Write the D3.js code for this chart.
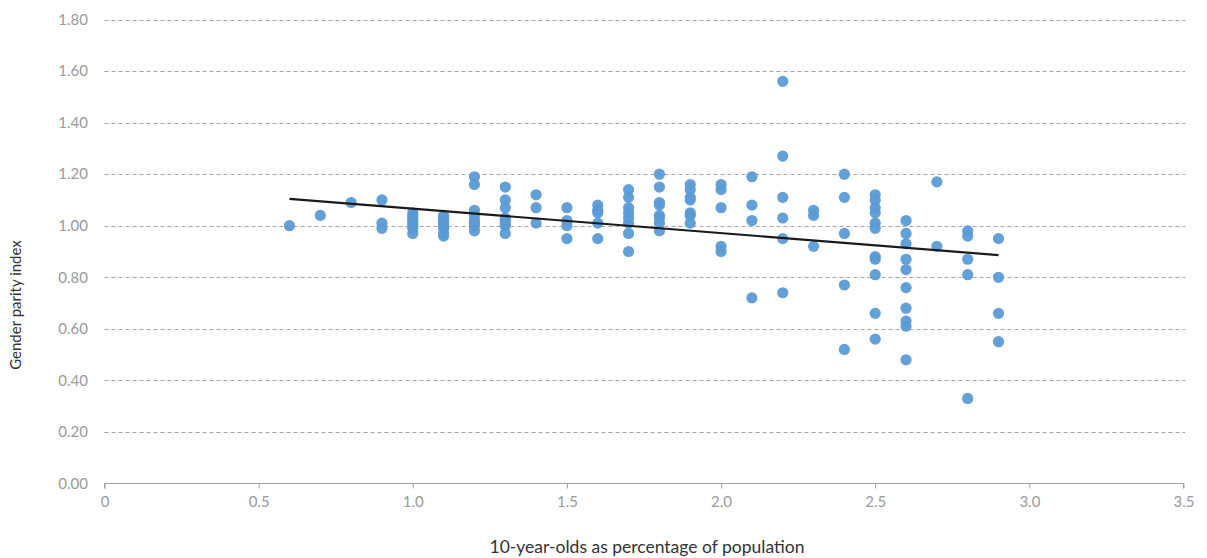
<!DOCTYPE html>
<html><head><meta charset="utf-8">
<script src="https://cdn.jsdelivr.net/npm/d3@7"></script>
<style>body{margin:0;background:#fff;}svg{display:block;font-family:Lato,"Open Sans",sans-serif;}</style>
</head><body><svg id="c" width="1207" height="558"></svg>
<script>
const xTicks = [0, 0.5, 1.0, 1.5, 2.0, 2.5, 3.0, 3.5];
const xTickLabels = ["0", "0.5", "1.0", "1.5", "2.0", "2.5", "3.0", "3.5"];
const yTicks = [0, 0.2, 0.4, 0.6, 0.8, 1.0, 1.2, 1.4, 1.6, 1.8];
const yTickLabels = ["0.00", "0.20", "0.40", "0.60", "0.80", "1.00", "1.20", "1.40", "1.60", "1.80"];
const xTitle = "10-year-olds as percentage of population";
const yTitle = "Gender parity index";

const pointX = [
 0.6, 0.7, 0.8, 0.9, 0.9, 0.9,
 1.0, 1.0, 1.0, 1.0, 1.0, 1.0, 1.0, 1.0,
 1.1, 1.1, 1.1, 1.1, 1.1, 1.1, 1.1, 1.1,
 1.2, 1.2, 1.2, 1.2, 1.2, 1.2, 1.2, 1.2,
 1.3, 1.3, 1.3, 1.3, 1.3, 1.3, 1.3, 1.3,
 1.4, 1.4, 1.4,
 1.5, 1.5, 1.5, 1.5,
 1.6, 1.6, 1.6, 1.6, 1.6,
 1.7, 1.7, 1.7, 1.7, 1.7, 1.7, 1.7, 1.7,
 1.8, 1.8, 1.8, 1.8, 1.8, 1.8, 1.8, 1.8,
 1.9, 1.9, 1.9, 1.9, 1.9, 1.9, 1.9,
 2.0, 2.0, 2.0, 2.0, 2.0,
 2.1, 2.1, 2.1, 2.1,
 2.2, 2.2, 2.2, 2.2, 2.2, 2.2,
 2.3, 2.3, 2.3,
 2.4, 2.4, 2.4, 2.4, 2.4,
 2.5, 2.5, 2.5, 2.5, 2.5, 2.5, 2.5, 2.5, 2.5, 2.5, 2.5,
 2.6, 2.6, 2.6, 2.6, 2.6, 2.6, 2.6, 2.6, 2.6, 2.6,
 2.7, 2.7,
 2.8, 2.8, 2.8, 2.8, 2.8,
 2.9, 2.9, 2.9, 2.9
];
const pointY = [
 1.00, 1.04, 1.09, 1.10, 1.01, 0.99,
 1.05, 1.04, 1.03, 1.02, 1.01, 1.00, 0.99, 0.97,
 1.04, 1.03, 1.02, 1.01, 1.00, 0.99, 0.97, 0.96,
 1.19, 1.16, 1.06, 1.04, 1.02, 1.01, 1.00, 0.98,
 1.15, 1.10, 1.07, 1.03, 1.02, 1.01, 1.00, 0.97,
 1.12, 1.07, 1.01,
 1.07, 1.02, 1.00, 0.95,
 1.08, 1.06, 1.05, 1.01, 0.95,
 1.14, 1.11, 1.07, 1.05, 1.03, 1.01, 0.97, 0.90,
 1.20, 1.15, 1.09, 1.08, 1.04, 1.03, 1.01, 0.98,
 1.16, 1.14, 1.11, 1.10, 1.05, 1.04, 1.01,
 1.16, 1.14, 1.07, 0.92, 0.90,
 1.19, 1.08, 1.02, 0.72,
 1.56, 1.27, 1.11, 1.03, 0.95, 0.74,
 1.06, 1.04, 0.92,
 1.20, 1.11, 0.97, 0.77, 0.52,
 1.12, 1.10, 1.07, 1.05, 1.01, 0.99, 0.88, 0.87, 0.81, 0.66, 0.56,
 1.02, 0.97, 0.93, 0.87, 0.83, 0.76, 0.68, 0.63, 0.61, 0.48,
 1.17, 0.92,
 0.98, 0.96, 0.87, 0.81, 0.33,
 0.95, 0.80, 0.66, 0.55
];
const trendX = [0.6, 2.9];
const trendY = [1.104, 0.886];

const svg = d3.select("#c");
const x = d3.scaleLinear().domain([0, 3.5]).range([104.5, 1183.5]);
const y = d3.scaleLinear().domain([0, 1.8]).range([483.5, 19.5]);

// gridlines
svg.append("g").selectAll("line").data(yTicks.filter(d => d > 0)).join("line")
  .attr("x1", 104.5).attr("x2", 1185).attr("y1", d => Math.round(y(d)) + 0.5).attr("y2", d => Math.round(y(d)) + 0.5)
  .attr("stroke", "#a6a6a6").attr("stroke-width", 1).attr("stroke-dasharray", "4,3");

// y labels
svg.append("g").selectAll("text").data(yTicks).join("text")
  .attr("x", 88).attr("y", d => y(d)).attr("dy", "0.35em").attr("text-anchor", "end")
  .attr("fill", "#9a9a9a").attr("font-size", 15).text((d, i) => yTickLabels[i]);

// x axis
const xAxis = d3.axisBottom(x).tickValues(xTicks).tickSize(5).tickPadding(8)
  .tickFormat((d, i) => xTickLabels[i]);
const gx = svg.append("g").attr("transform", "translate(0,483.5)").call(xAxis);
gx.select(".domain").attr("stroke", "#a0a0a0").attr("d", "M104.5,5V0H1183.5V5");
gx.selectAll(".tick line").attr("stroke", "#a0a0a0");
gx.selectAll(".tick text").attr("fill", "#9a9a9a").attr("font-size", 15).attr("font-family", "Lato,'Open Sans',sans-serif");

// points
const pts = pointX.map((v, i) => ({x: v, y: pointY[i]}));
svg.append("g").selectAll("circle").data(pts).join("circle")
  .attr("cx", d => x(d.x)).attr("cy", d => y(d.y)).attr("r", 5.6)
  .attr("fill", "#5b9bd5").attr("fill-opacity", 0.95);

// trend line
svg.append("path").datum(trendX.map((v, i) => [v, trendY[i]]))
  .attr("d", d3.line().x(d => x(d[0])).y(d => y(d[1])))
  .attr("stroke", "#1a1a1a").attr("stroke-width", 2.2).attr("fill", "none");

// titles
svg.append("text").attr("x", 647).attr("y", 553).attr("text-anchor", "middle")
  .attr("fill", "#333").attr("font-size", 17.5).text(xTitle);
svg.append("text").attr("transform", "translate(21,305) rotate(-90)").attr("text-anchor", "middle")
  .attr("fill", "#333").attr("font-size", 15).text(yTitle);
</script></body></html>
